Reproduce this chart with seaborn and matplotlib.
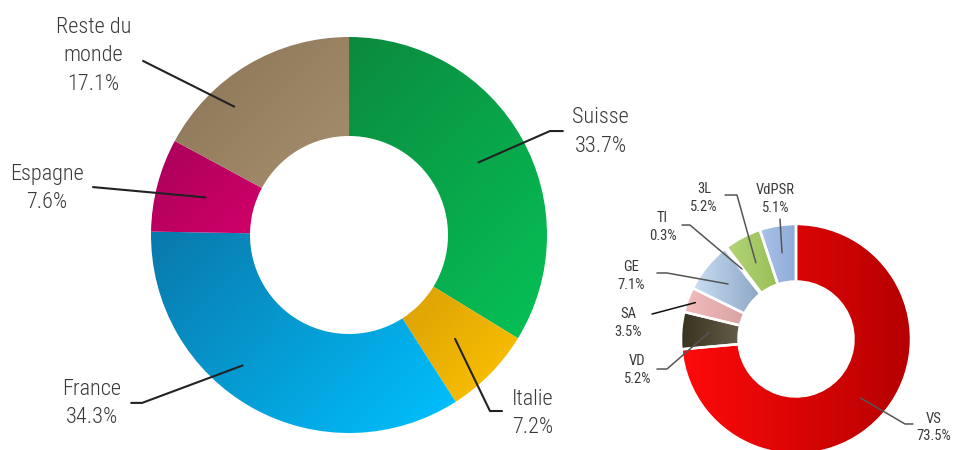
import numpy as np
import matplotlib
matplotlib.use("Agg")
import matplotlib.pyplot as plt
import seaborn as sns

sns.set_theme(style="white")
plt.rcParams["font.family"] = ["Roboto Condensed", "Roboto", "DejaVu Sans"]

# Répartition par pays (grand anneau)
pays = ["Suisse", "Italie", "France", "Espagne", "Reste du\nmonde"]
pays_pct = [33.7, 7.2, 34.3, 7.6, 17.1]

# Répartition par région (petit anneau)
regions = ["VS", "VD", "SA", "GE", "TI", "3L", "VdPSR"]
regions_pct = [73.5, 5.2, 3.5, 7.1, 0.3, 5.2, 5.1]

# couleurs (début -> fin du dégradé)
pays_colors = [("#0b8a3e", "#06c257"), ("#c8900a", "#ffc400"), ("#0a78aa", "#00c2ff"),
               ("#a8005a", "#e4006f"), ("#8a7455", "#ab9472")]
region_colors = [("#ff0a0a", "#b50000"), ("#38331f", "#8a8670"), ("#f2bcbc", "#c48e8e"),
                 ("#cadef4", "#6a88ac"), ("#b4c8dc", "#8aa4c0"), ("#b4d478", "#8eb84c"),
                 ("#abc3ea", "#8eaad6")]

# placement des étiquettes (unités du rayon) : texte, coude du trait, pointe (décalage angle, rayon)
pays_text = [(1.27, 0.52), (0.93, -0.90), (-1.30, -0.85), (-1.525, 0.235), (-1.29, 0.905)]
pays_elbow = [[(1.08, 0.525), (1.015, 0.525)], [(0.773, -0.889), (0.712, -0.889)],
              [(-1.10, -0.848), (-1.045, -0.848)], [(-1.293, 0.242)], [(-1.04, 0.879)]]
pays_ptr = [(0, 0.75), (0, 0.75), (-10, 0.85), (0, 0.75), (11, 0.87)]
region_text = [(1.20, -0.77), (-1.38, -0.27), (-1.46, 0.14), (-1.43, 0.55),
               (-1.16, 0.975), (-0.80, 1.225), (-0.18, 1.22)]
region_elbow = [[(1.017, -0.739), (0.948, -0.739)], [(-1.209, -0.261), (-1.122, -0.261)],
                [(-1.252, 0.217)], [(-1.209, 0.574), (-1.122, 0.574)],
                [(-0.991, 0.991), (-0.922, 0.991)], [(-0.617, 1.252), (-0.513, 1.252)],
                [(-0.139, 1.043)]]
region_ptr = [(0, 0.76), (0, 0.76), (0, 0.93), (0, 0.76), (0, 0.77), (0, 0.75), (0, 0.76)]
region_lc = ["#555555", "#555555", "#111111", "#555555", "#555555", "#555555", "#555555"]


def gradient_fill(ax, wedge, c0, c1, direction):
    verts = wedge.get_path().vertices
    x0, y0 = verts.min(axis=0)
    x1, y1 = verts.max(axis=0)
    xs, ys = np.meshgrid(np.linspace(x0, x1, 200), np.linspace(y0, y1, 200))
    dx, dy = direction
    val = xs * dx + ys * dy
    val = (val - val.min()) / (val.max() - val.min() + 1e-9)
    cmap = sns.blend_palette([c0, c1], as_cmap=True)
    im = ax.imshow(val, extent=(x0, x1, y0, y1), origin="lower", cmap=cmap,
                   vmin=0, vmax=1, zorder=1, interpolation="bilinear")
    im.set_clip_path(wedge)


def donut(ax, values, labels, colors, text_pos, elbows, ptrs, lcolors, direction, edge,
          fs, ls, lw, weight):
    wedges, _ = ax.pie(values, startangle=90, counterclock=False, radius=1,
                       colors=[c[0] for c in colors],
                       wedgeprops=dict(width=0.5, edgecolor="none"))
    for w, (c0, c1) in zip(wedges, colors):
        gradient_fill(ax, w, c0, c1, direction)
        w.set_facecolor("none")
        w.set_zorder(2)
        if edge:
            w.set_edgecolor("white")
            w.set_linewidth(1.8)
    for w, lab, v, tp, el, (da, rr), lc in zip(wedges, labels, values, text_pos, elbows,
                                               ptrs, lcolors):
        mid = np.deg2rad((w.theta1 + w.theta2) / 2 + da)
        end = (rr * np.cos(mid), rr * np.sin(mid))
        pts = el + [end]
        ax.plot([p[0] for p in pts], [p[1] for p in pts], color=lc, lw=lw,
                clip_on=False, zorder=3, solid_capstyle="round")
        ax.text(tp[0], tp[1], f"{lab}\n{v:.1f}%", ha="center", va="center",
                fontsize=fs, color="#3a3a3a", linespacing=ls, fontweight=weight)
    ax.set_xlim(-1, 1)
    ax.set_ylim(-1, 1)
    ax.set_aspect("equal")
    ax.axis("off")


fig = plt.figure(figsize=(9.55, 4.5), dpi=100)
ax1 = fig.add_axes([151 / 955, 17 / 450, 396 / 955, 396 / 450])
ax2 = fig.add_axes([681 / 955, -4 / 450, 230 / 955, 230 / 450])

donut(ax1, pays_pct, pays, pays_colors, pays_text, pays_elbow, pays_ptr,
      ["#222222"] * len(pays), (1, -1), False, 16, 1.45, 1.5, "light")
donut(ax2, regions_pct, regions, region_colors, region_text, region_elbow, region_ptr,
      region_lc, (1, 0), True, 10.5, 1.35, 1.1, "normal")

fig.savefig("out.png", dpi=100)
